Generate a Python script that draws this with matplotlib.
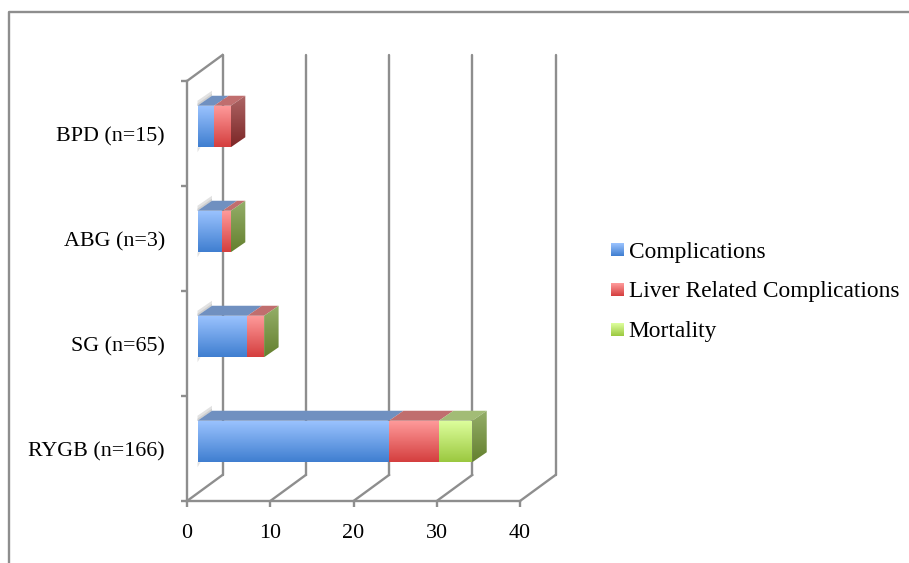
import numpy as np
import matplotlib
matplotlib.use("Agg")
import matplotlib.pyplot as plt
from matplotlib.lines import Line2D
from matplotlib.patches import Patch, Polygon
from matplotlib.image import BboxImage
from matplotlib.transforms import Bbox, TransformedBbox
from matplotlib.colors import LinearSegmentedColormap
from matplotlib.legend_handler import HandlerBase

categories = ["RYGB (n=166)", "SG (n=65)", "ABG (n=3)", "BPD (n=15)"]
series_names = ["Complications", "Liver Related Complications", "Mortality"]
complications = [23, 6, 3, 2]
liver = [6, 2, 1, 2]
mortality = [4, 0, 0, np.nan]
x_ticks = [0, 10, 20, 30, 40]

W, H = 909, 563
GRID = "#8E8E8E"
LW = 1.7
FONT = "Liberation Serif"
FS = 15.8
LEG_FS = 16.8
XPX = 333 / 40
YPX = 420 / 4
DX, DY = 35.5 / XPX, 26 / YPX    # wall depth
BX, BY = 14.5 / XPX, 10 / YPX    # bar depth
OX, OY = 10.5 / XPX, 7 / YPX     # bar offset into the floor
BAR_H = 41.5 / YPX

front = [("#9CC4FF", "#3F7ED0"), ("#FF9C9C", "#D43E3E"), ("#DEFF9E", "#9BC83F")]
top = ["#7090C0", "#C06E6E", "#A2BC76"]
side = [("#6F8FC0", "#2F5C9A"), ("#AE6666", "#7C2626"), ("#95AF6A", "#64802E")]


def cmap(pair):
    return LinearSegmentedColormap.from_list("g", pair)


GRAD = np.linspace(0, 1, 256).reshape(-1, 1)

fig = plt.figure(figsize=(W / 100, H / 100), dpi=100)
ax = fig.add_axes([187 / W, 1 - 501 / H, 333 / W, 420 / H])
ax.set_autoscale_on(False)
ax.set_xlim(0, 40)
ax.set_ylim(0, 4)
ax.patch.set_alpha(0)


def gradient_poly(pts, pair, z):
    pts = np.array(pts)
    poly = Polygon(pts, closed=True, transform=ax.transData, fc="none", ec="none")
    ax.add_patch(poly)
    im = ax.imshow(GRAD, cmap=cmap(pair), aspect="auto", interpolation="bilinear",
                   extent=(pts[:, 0].min(), pts[:, 0].max(), pts[:, 1].min(), pts[:, 1].max()),
                   origin="upper", zorder=z)
    im.set_clip_path(poly)


# walls and floor
for v in x_ticks:
    ax.plot([v + DX, v + DX], [DY, 4 + DY], color=GRID, lw=LW, clip_on=False, zorder=1,
            solid_capstyle="round")
    ax.plot([v, v + DX], [0, DY], color=GRID, lw=LW, clip_on=False, zorder=1)
ax.plot([0, DX], [4, 4 + DY], color=GRID, lw=LW, clip_on=False, zorder=1)

# bars
stack = np.array([complications, liver, mortality], dtype=float)
for i in range(len(categories)):
    y0 = i + 0.5 + OY - BAR_H / 2
    y1 = y0 + BAR_H
    # soft shadow at the rear left of each bar
    for grow, shade in ((1.5, "#E2E2E2"), (1.2, "#CFCFCF")):
        ax.fill([OX, OX + BX, OX + BX, OX], [y1, y1 + BY, y1 + grow * BY, y1 + (grow - 1) * BY],
                color=shade, lw=0, zorder=2)
    ax.fill([OX, OX + 3 / XPX, OX], [y0, y0, y0 - 5 / YPX], color="#E2E2E2", lw=0, zorder=2)
    left = OX
    last = 0
    for s in range(3):
        v = stack[s, i]
        if np.isnan(v):
            continue
        last = s
        if v == 0:
            continue
        gradient_poly([(left, y0), (left + v, y0), (left + v, y1), (left, y1)], front[s], 5)
        ax.fill([left, left + v, left + v + BX, left + BX], [y1, y1, y1 + BY, y1 + BY],
                color=top[s], lw=0, zorder=4)
        left += v
    gradient_poly([(left, y0), (left + BX, y0 + BY), (left + BX, y1 + BY), (left, y1)],
                  side[last], 4)

# axes
for name in ("top", "right"):
    ax.spines[name].set_visible(False)
for name in ("left", "bottom"):
    ax.spines[name].set_color(GRID)
    ax.spines[name].set_linewidth(LW)
ax.set_xticks(x_ticks)
ax.set_yticks(range(5))
ax.set_yticklabels([])
ax.set_yticks(np.arange(len(categories)) + 0.49, labels=categories, minor=True)
ax.tick_params(axis="both", which="major", color=GRID, width=LW, length=4.3)
ax.tick_params(axis="x", labelsize=FS, pad=12, labelcolor="black")
ax.tick_params(axis="y", which="minor", length=0, pad=16, labelsize=FS)
for t in ax.get_xticklabels() + ax.get_yticklabels(minor=True):
    t.set_fontfamily(FONT)


# legend with gradient keys
class GradientKey(HandlerBase):
    def create_artists(self, legend, orig, xd, yd, w, h, fs, trans):
        bbox = TransformedBbox(Bbox([[-xd, -yd], [-xd + w, -yd + h]]), trans)
        im = BboxImage(bbox, cmap=cmap(orig.pair), interpolation="bilinear", origin="upper")
        im.set_data(GRAD)
        return [im]


handles = []
for name, pair in zip(series_names, front):
    p = Patch(label=name)
    p.pair = pair
    handles.append(p)
leg = fig.legend(handles=handles, handler_map={Patch: GradientKey()},
                 loc="center left", bbox_to_anchor=(611 / W, 1 - 292 / H),
                 bbox_transform=fig.transFigure, frameon=False, borderpad=0, borderaxespad=0,
                 prop={"family": FONT, "size": LEG_FS}, handlelength=0.52, handleheight=0.48,
                 handletextpad=0.24, labelspacing=0.81)

# outer chart border
fig.add_artist(Line2D([9 / W, 9 / W, 1], [0, 1 - 12 / H, 1 - 12 / H], color=GRID, lw=LW))

fig.savefig("out.png", dpi=100)
